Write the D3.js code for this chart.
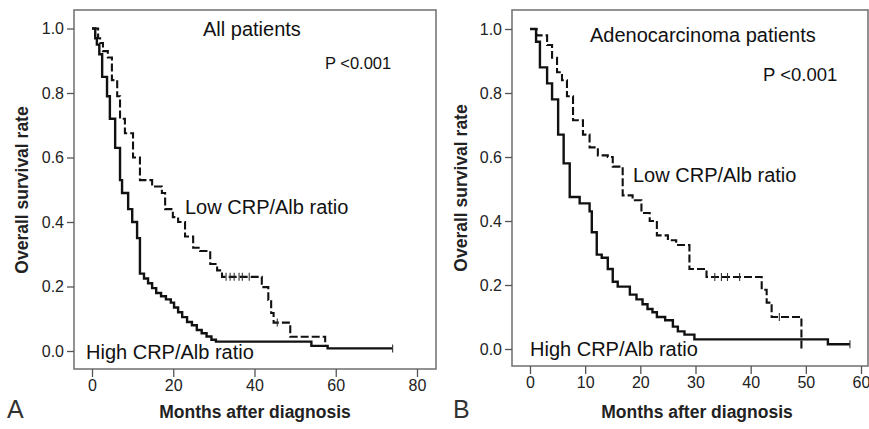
<!DOCTYPE html>
<html lang="en">
<head>
<meta charset="UTF-8">
<title>Overall survival by CRP/Alb ratio</title>
<script src="https://d3js.org/d3.v7.min.js"></script>
<style>
    body { margin: 0; background: #fff; }
    svg { font-family: "Liberation Sans", Arial, sans-serif; }
    .tick text { fill: #222; font-size: 16px; }
    .tick line { stroke: #555; stroke-width: 1.3; }
    .axis path.domain { display: none; }
</style>
</head>
<body>
<svg id="chart" width="869" height="429"></svg>
<script>
// ---- data: [months, survival] after each step ----
var highA = [[0,1.0],[0.8,0.97],[1.2,0.95],[1.8,0.92],[2.5,0.85],[3.7,0.79],[4.4,0.72],[5.7,0.63],
    [6.9,0.53],[7.4,0.49],[8.9,0.44],[9.9,0.40],[11.1,0.35],[11.8,0.24],[12.8,0.225],[13.8,0.21],
    [14.8,0.195],[15.8,0.18],[17,0.17],[18.2,0.16],[19.4,0.15],[20.2,0.135],[21.2,0.12],[22.2,0.105],
    [23.4,0.09],[24.6,0.08],[25.8,0.065],[27,0.055],[28.2,0.045],[29.4,0.035],[30.5,0.029],
    [54,0.016],[58,0.008],[74,0.008]];
var lowA = [[0,1.0],[1.5,0.97],[2.0,0.955],[2.7,0.93],[3.9,0.91],[4.9,0.84],[6.2,0.79],[6.9,0.72],
    [8.1,0.675],[10.1,0.60],[11.8,0.53],[14.8,0.51],[17.2,0.49],[18,0.44],[19.9,0.415],[21.2,0.40],
    [22.9,0.355],[24.9,0.32],[26.6,0.31],[29.1,0.27],[30.8,0.25],[32,0.23],[41.8,0.198],[43.4,0.158],
    [44.1,0.118],[44.7,0.088],[48.8,0.044],[57.4,0.016],[57.6,0.016]];
var censorLowA = [33, 34, 35, 36.2, 37, 38.7, 45.6];
var censorHighA = [74];

var highB = [[0,1.0],[1.1,0.96],[1.8,0.88],[3.1,0.83],[4.0,0.78],[5.1,0.67],[6.1,0.58],[7.2,0.475],
    [9.0,0.455],[10.8,0.43],[11.2,0.365],[12.1,0.295],[13.0,0.285],[14.1,0.25],[15.0,0.21],[15.9,0.195],
    [18.1,0.17],[19.3,0.155],[20.4,0.14],[21.3,0.125],[22.2,0.115],[23,0.10],[24.5,0.09],[25.9,0.07],
    [26.8,0.055],[28.0,0.045],[29.8,0.03],[54,0.015],[58,0.015]];
var lowB = [[0,1.0],[1.2,0.98],[3.1,0.95],[4.0,0.91],[4.9,0.865],[5.8,0.84],[6.7,0.79],[7.8,0.715],
    [9.6,0.67],[10.8,0.63],[12.3,0.605],[14.1,0.60],[15,0.57],[16.8,0.48],[18.6,0.465],[20.2,0.425],
    [21.7,0.40],[23,0.355],[25,0.34],[26.5,0.325],[28.9,0.25],[32,0.225],[42,0.185],[42.9,0.145],
    [43.8,0.10],[49.2,0.0],[49.3,0.0]];
var censorLowB = [33.5, 34.7, 35.8, 38, 45.2];
var censorHighB = [58];

var yTicks = [0, 0.2, 0.4, 0.6, 0.8, 1.0];
var xTicksA = [0, 20, 40, 60, 80];
var xTicksB = [0, 10, 20, 30, 40, 50, 60];

var svg = d3.select("#chart");
svg.append("rect").attr("width", 869).attr("height", 429).attr("fill", "#fff");

function drawPanel(p) {
    var g = svg.append("g");
    var x = d3.scaleLinear().domain(p.xDomain).range(p.xRange);
    var y = d3.scaleLinear().domain([0, 1]).range(p.yRange);

    // frame
    g.append("rect")
        .attr("x", p.box[0]).attr("y", p.box[1])
        .attr("width", p.box[2] - p.box[0]).attr("height", p.box[3] - p.box[1])
        .attr("fill", "none").attr("stroke", "#777").attr("stroke-width", 1.6);

    g.append("g").attr("class", "axis")
        .attr("transform", "translate(" + p.box[0] + ",0)")
        .call(d3.axisLeft(y).tickValues(yTicks).tickFormat(d3.format(".1f")).tickSize(7).tickPadding(3));

    g.append("g").attr("class", "axis")
        .attr("transform", "translate(0," + p.box[3] + ")")
        .call(d3.axisBottom(x).tickValues(p.xTicks).tickSize(8).tickPadding(3));

    var line = d3.line()
        .x(function (d) { return x(d[0]); })
        .y(function (d) { return y(d[1]); })
        .curve(d3.curveStepAfter);

    g.append("path").datum(p.high)
        .attr("d", line).attr("fill", "none")
        .attr("stroke", "#111").attr("stroke-width", 2.4);

    g.append("path").datum(p.low)
        .attr("d", line).attr("fill", "none")
        .attr("stroke", "#111").attr("stroke-width", 2.1)
        .attr("stroke-dasharray", "8,3");

    // censor ticks
    function stepValue(curve, t) {
        var v = curve[0][1];
        curve.forEach(function (d) { if (d[0] <= t) v = d[1]; });
        return v;
    }
    [[p.low, p.censorLow], [p.high, p.censorHigh]].forEach(function (c) {
        g.selectAll(null).data(c[1]).enter().append("line")
            .attr("x1", function (t) { return x(t); })
            .attr("x2", function (t) { return x(t); })
            .attr("y1", function (t) { return y(stepValue(c[0], t)) - 4; })
            .attr("y2", function (t) { return y(stepValue(c[0], t)) + 4; })
            .attr("stroke", "#333").attr("stroke-width", 1.1);
    });

    // texts
    g.append("text").attr("x", p.titlePos[0]).attr("y", p.titlePos[1])
        .attr("font-size", 20).attr("fill", "#111").text(p.title);
    g.append("text").attr("x", p.pPos[0]).attr("y", p.pPos[1])
        .attr("font-size", p.pSize).attr("fill", "#111").text("P <0.001");
    g.append("text").attr("x", p.lowPos[0]).attr("y", p.lowPos[1])
        .attr("font-size", 20).attr("fill", "#111").text("Low CRP/Alb ratio");
    g.append("text").attr("x", p.highPos[0]).attr("y", p.highPos[1])
        .attr("font-size", 20).attr("fill", "#111").text("High CRP/Alb ratio");

    g.append("text")
        .attr("transform", "translate(" + p.yTitlePos[0] + "," + p.yTitlePos[1] + ") rotate(-90)")
        .attr("text-anchor", "middle").attr("font-size", 17.5).attr("font-weight", "bold")
        .attr("fill", "#222").text("Overall survival rate");
    g.append("text").attr("x", p.xTitlePos[0]).attr("y", p.xTitlePos[1])
        .attr("text-anchor", "middle").attr("font-size", 17.5).attr("font-weight", "bold")
        .attr("fill", "#222").text("Months after diagnosis");
    g.append("text").attr("x", p.letterPos[0]).attr("y", p.letterPos[1])
        .attr("font-size", 25).attr("fill", "#333").text(p.letter);
}

drawPanel({
    high: highA, low: lowA, censorLow: censorLowA, censorHigh: censorHighA,
    xDomain: [0, 80], xRange: [92, 417], yRange: [351, 28.5], xTicks: xTicksA,
    box: [74, 10, 436, 369],
    title: "All patients", titlePos: [203, 36],
    pPos: [325, 69], pSize: 16.5,
    lowPos: [185, 214], highPos: [86, 359],
    yTitlePos: [28, 190], xTitlePos: [255, 418],
    letter: "A", letterPos: [7, 418]
});

drawPanel({
    high: highB, low: lowB, censorLow: censorLowB, censorHigh: censorHighB,
    xDomain: [0, 60], xRange: [530, 861], yRange: [349, 29], xTicks: xTicksB,
    box: [512, 10, 868, 366],
    title: "Adenocarcinoma patients", titlePos: [590, 42],
    pPos: [763, 81], pSize: 18.5,
    lowPos: [633, 182], highPos: [530, 356],
    yTitlePos: [467, 188], xTitlePos: [697, 418],
    letter: "B", letterPos: [453, 418]
});
</script>
</body>
</html>
